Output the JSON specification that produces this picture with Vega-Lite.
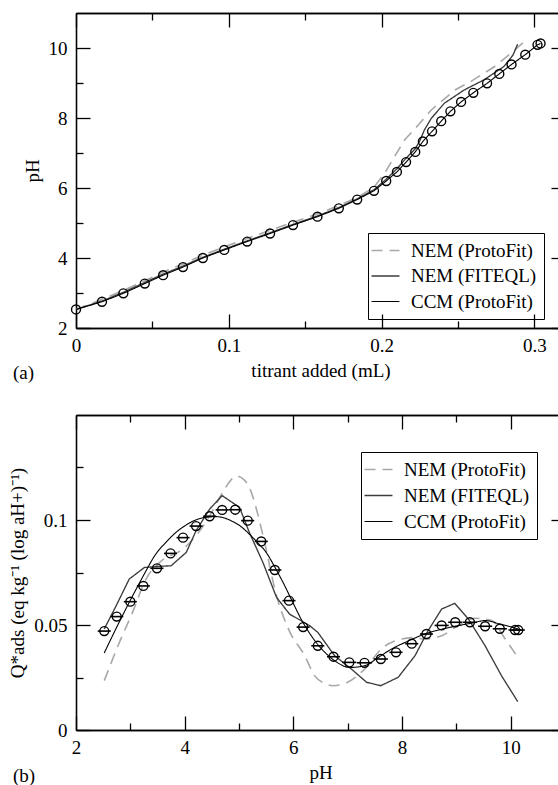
{
  "$schema": "https://vega.github.io/schema/vega-lite/v6.json",
  "padding": {"left": 8, "top": 12, "right": 0, "bottom": 0},
  "spacing": 31,
  "config": {
    "font": "Liberation Serif",
    "view": {"stroke": null},
    "axis": {
      "grid": false, "domainColor": "black", "domainWidth": 1.3, "tickColor": "black", "tickWidth": 1.3,
      "labelFont": "Liberation Serif", "labelFontSize": 19, "labelColor": "black",
      "titleFont": "Liberation Serif", "titleFontSize": 19, "titleFontWeight": "normal", "titleColor": "black",
      "tickSize": -14, "labelPadding": 22, "titlePadding": 6, "labelFlush": false
    },
    "title": {"font": "Liberation Serif", "fontSize": 19, "fontWeight": "normal", "color": "black"}
  },
  "datasets": {
    "aObs": [
      {"v":0,"pH":2.53},{"v":0.017,"pH":2.75},{"v":0.031,"pH":2.99},{"v":0.045,"pH":3.27},{"v":0.057,"pH":3.51},
      {"v":0.07,"pH":3.74},{"v":0.083,"pH":4.0},{"v":0.097,"pH":4.23},{"v":0.112,"pH":4.47},{"v":0.127,"pH":4.7},
      {"v":0.142,"pH":4.94},{"v":0.158,"pH":5.18},{"v":0.172,"pH":5.42},{"v":0.184,"pH":5.67},{"v":0.195,"pH":5.92},
      {"v":0.203,"pH":6.2},{"v":0.21,"pH":6.46},{"v":0.216,"pH":6.74},{"v":0.222,"pH":7.03},{"v":0.227,"pH":7.33},
      {"v":0.233,"pH":7.62},{"v":0.239,"pH":7.91},{"v":0.245,"pH":8.19},{"v":0.252,"pH":8.46},{"v":0.26,"pH":8.72},
      {"v":0.269,"pH":8.99},{"v":0.277,"pH":9.26},{"v":0.285,"pH":9.53},{"v":0.294,"pH":9.81},{"v":0.302,"pH":10.09},
      {"v":0.304,"pH":10.13}
    ],
    "aLines": [
      {"model":"NEM (ProtoFit)","v":0,"pH":2.53},{"model":"NEM (ProtoFit)","v":0.017,"pH":2.82},{"model":"NEM (ProtoFit)","v":0.031,"pH":3.07},
      {"model":"NEM (ProtoFit)","v":0.045,"pH":3.35},{"model":"NEM (ProtoFit)","v":0.057,"pH":3.6},{"model":"NEM (ProtoFit)","v":0.07,"pH":3.83},
      {"model":"NEM (ProtoFit)","v":0.083,"pH":4.08},{"model":"NEM (ProtoFit)","v":0.097,"pH":4.32},{"model":"NEM (ProtoFit)","v":0.112,"pH":4.56},
      {"model":"NEM (ProtoFit)","v":0.127,"pH":4.79},{"model":"NEM (ProtoFit)","v":0.142,"pH":5.02},{"model":"NEM (ProtoFit)","v":0.158,"pH":5.26},
      {"model":"NEM (ProtoFit)","v":0.172,"pH":5.5},{"model":"NEM (ProtoFit)","v":0.184,"pH":5.73},{"model":"NEM (ProtoFit)","v":0.195,"pH":6.02},
      {"model":"NEM (ProtoFit)","v":0.202,"pH":6.42},{"model":"NEM (ProtoFit)","v":0.2085,"pH":6.9},{"model":"NEM (ProtoFit)","v":0.215,"pH":7.37},
      {"model":"NEM (ProtoFit)","v":0.224,"pH":7.8},{"model":"NEM (ProtoFit)","v":0.2325,"pH":8.23},{"model":"NEM (ProtoFit)","v":0.248,"pH":8.8},
      {"model":"NEM (ProtoFit)","v":0.259,"pH":9.06},{"model":"NEM (ProtoFit)","v":0.274,"pH":9.47},{"model":"NEM (ProtoFit)","v":0.287,"pH":9.94},
      {"model":"NEM (ProtoFit)","v":0.2925,"pH":10.15},
      {"model":"NEM (FITEQL)","v":0,"pH":2.53},{"model":"NEM (FITEQL)","v":0.017,"pH":2.77},{"model":"NEM (FITEQL)","v":0.031,"pH":3.02},
      {"model":"NEM (FITEQL)","v":0.045,"pH":3.3},{"model":"NEM (FITEQL)","v":0.057,"pH":3.54},{"model":"NEM (FITEQL)","v":0.07,"pH":3.77},
      {"model":"NEM (FITEQL)","v":0.083,"pH":4.02},{"model":"NEM (FITEQL)","v":0.097,"pH":4.25},{"model":"NEM (FITEQL)","v":0.112,"pH":4.49},
      {"model":"NEM (FITEQL)","v":0.127,"pH":4.72},{"model":"NEM (FITEQL)","v":0.142,"pH":4.96},{"model":"NEM (FITEQL)","v":0.158,"pH":5.2},
      {"model":"NEM (FITEQL)","v":0.172,"pH":5.44},{"model":"NEM (FITEQL)","v":0.184,"pH":5.69},{"model":"NEM (FITEQL)","v":0.195,"pH":5.95},
      {"model":"NEM (FITEQL)","v":0.203,"pH":6.25},{"model":"NEM (FITEQL)","v":0.21,"pH":6.55},{"model":"NEM (FITEQL)","v":0.216,"pH":6.85},
      {"model":"NEM (FITEQL)","v":0.222,"pH":7.12},{"model":"NEM (FITEQL)","v":0.225,"pH":7.35},{"model":"NEM (FITEQL)","v":0.228,"pH":7.66},
      {"model":"NEM (FITEQL)","v":0.2325,"pH":7.99},{"model":"NEM (FITEQL)","v":0.241,"pH":8.42},{"model":"NEM (FITEQL)","v":0.254,"pH":8.8},
      {"model":"NEM (FITEQL)","v":0.267,"pH":9.09},{"model":"NEM (FITEQL)","v":0.28,"pH":9.47},{"model":"NEM (FITEQL)","v":0.286,"pH":9.8},
      {"model":"NEM (FITEQL)","v":0.289,"pH":10.11},
      {"model":"CCM (ProtoFit)","v":0,"pH":2.53},{"model":"CCM (ProtoFit)","v":0.017,"pH":2.75},{"model":"CCM (ProtoFit)","v":0.031,"pH":2.99},
      {"model":"CCM (ProtoFit)","v":0.045,"pH":3.27},{"model":"CCM (ProtoFit)","v":0.057,"pH":3.51},{"model":"CCM (ProtoFit)","v":0.07,"pH":3.74},
      {"model":"CCM (ProtoFit)","v":0.083,"pH":4.0},{"model":"CCM (ProtoFit)","v":0.097,"pH":4.23},{"model":"CCM (ProtoFit)","v":0.112,"pH":4.47},
      {"model":"CCM (ProtoFit)","v":0.127,"pH":4.7},{"model":"CCM (ProtoFit)","v":0.142,"pH":4.94},{"model":"CCM (ProtoFit)","v":0.158,"pH":5.18},
      {"model":"CCM (ProtoFit)","v":0.172,"pH":5.42},{"model":"CCM (ProtoFit)","v":0.184,"pH":5.67},{"model":"CCM (ProtoFit)","v":0.195,"pH":5.92},
      {"model":"CCM (ProtoFit)","v":0.203,"pH":6.2},{"model":"CCM (ProtoFit)","v":0.21,"pH":6.46},{"model":"CCM (ProtoFit)","v":0.216,"pH":6.74},
      {"model":"CCM (ProtoFit)","v":0.222,"pH":7.03},{"model":"CCM (ProtoFit)","v":0.227,"pH":7.33},{"model":"CCM (ProtoFit)","v":0.233,"pH":7.62},
      {"model":"CCM (ProtoFit)","v":0.239,"pH":7.91},{"model":"CCM (ProtoFit)","v":0.245,"pH":8.19},{"model":"CCM (ProtoFit)","v":0.252,"pH":8.46},
      {"model":"CCM (ProtoFit)","v":0.26,"pH":8.72},{"model":"CCM (ProtoFit)","v":0.269,"pH":8.99},{"model":"CCM (ProtoFit)","v":0.277,"pH":9.26},
      {"model":"CCM (ProtoFit)","v":0.285,"pH":9.53},{"model":"CCM (ProtoFit)","v":0.294,"pH":9.81},{"model":"CCM (ProtoFit)","v":0.302,"pH":10.09},
      {"model":"CCM (ProtoFit)","v":0.304,"pH":10.13}
    ],
    "bObs": [
      {"pH":2.52,"Q":0.0471,"ex":0.12},{"pH":2.75,"Q":0.054,"ex":0.12},{"pH":3.0,"Q":0.0611,"ex":0.12},{"pH":3.24,"Q":0.0686,"ex":0.12},
      {"pH":3.49,"Q":0.077,"ex":0.12},{"pH":3.74,"Q":0.0841,"ex":0.12},{"pH":3.97,"Q":0.0916,"ex":0.12},{"pH":4.21,"Q":0.0971,"ex":0.12},
      {"pH":4.46,"Q":0.1018,"ex":0.12},{"pH":4.69,"Q":0.1048,"ex":0.12},{"pH":4.93,"Q":0.1049,"ex":0.12},{"pH":5.16,"Q":0.0997,"ex":0.12},
      {"pH":5.41,"Q":0.0898,"ex":0.12},{"pH":5.66,"Q":0.0762,"ex":0.12},{"pH":5.92,"Q":0.0616,"ex":0.12},{"pH":6.18,"Q":0.049,"ex":0.12},
      {"pH":6.45,"Q":0.0401,"ex":0.12},{"pH":6.74,"Q":0.0349,"ex":0.12},{"pH":7.03,"Q":0.0322,"ex":0.13},{"pH":7.31,"Q":0.032,"ex":0.14},
      {"pH":7.61,"Q":0.0338,"ex":0.13},{"pH":7.89,"Q":0.037,"ex":0.12},{"pH":8.18,"Q":0.0411,"ex":0.12},{"pH":8.45,"Q":0.0457,"ex":0.12},
      {"pH":8.73,"Q":0.0498,"ex":0.13},{"pH":8.98,"Q":0.0513,"ex":0.13},{"pH":9.25,"Q":0.0513,"ex":0.13},{"pH":9.53,"Q":0.0494,"ex":0.13},
      {"pH":9.8,"Q":0.0482,"ex":0.13},{"pH":10.08,"Q":0.0476,"ex":0.12},{"pH":10.14,"Q":0.0476,"ex":0.12}
    ],
    "bLines": [
      {"model":"NEM (ProtoFit)","pH":2.52,"Q":0.0235},{"model":"NEM (ProtoFit)","pH":2.8,"Q":0.0418},{"model":"NEM (ProtoFit)","pH":3.04,"Q":0.056},
      {"model":"NEM (ProtoFit)","pH":3.29,"Q":0.0719},{"model":"NEM (ProtoFit)","pH":3.54,"Q":0.0798},{"model":"NEM (ProtoFit)","pH":3.97,"Q":0.0862},
      {"model":"NEM (ProtoFit)","pH":4.21,"Q":0.0925},{"model":"NEM (ProtoFit)","pH":4.46,"Q":0.102},{"model":"NEM (ProtoFit)","pH":4.7,"Q":0.1132},
      {"model":"NEM (ProtoFit)","pH":4.85,"Q":0.119},{"model":"NEM (ProtoFit)","pH":4.95,"Q":0.121},{"model":"NEM (ProtoFit)","pH":5.1,"Q":0.119},
      {"model":"NEM (ProtoFit)","pH":5.2,"Q":0.115},{"model":"NEM (ProtoFit)","pH":5.32,"Q":0.1052},{"model":"NEM (ProtoFit)","pH":5.47,"Q":0.0894},
      {"model":"NEM (ProtoFit)","pH":5.69,"Q":0.064},{"model":"NEM (ProtoFit)","pH":5.93,"Q":0.047},{"model":"NEM (ProtoFit)","pH":6.21,"Q":0.0354},
      {"model":"NEM (ProtoFit)","pH":6.39,"Q":0.0259},{"model":"NEM (ProtoFit)","pH":6.55,"Q":0.0225},{"model":"NEM (ProtoFit)","pH":6.73,"Q":0.0211},
      {"model":"NEM (ProtoFit)","pH":7.0,"Q":0.0227},{"model":"NEM (ProtoFit)","pH":7.31,"Q":0.029},{"model":"NEM (ProtoFit)","pH":7.62,"Q":0.0386},
      {"model":"NEM (ProtoFit)","pH":7.99,"Q":0.0433},{"model":"NEM (ProtoFit)","pH":8.2,"Q":0.044},{"model":"NEM (ProtoFit)","pH":8.42,"Q":0.0433},
      {"model":"NEM (ProtoFit)","pH":8.73,"Q":0.0449},{"model":"NEM (ProtoFit)","pH":9.04,"Q":0.0497},{"model":"NEM (ProtoFit)","pH":9.34,"Q":0.0532},
      {"model":"NEM (ProtoFit)","pH":9.65,"Q":0.0521},{"model":"NEM (ProtoFit)","pH":9.9,"Q":0.0433},{"model":"NEM (ProtoFit)","pH":10.11,"Q":0.0354},
      {"model":"NEM (FITEQL)","pH":2.52,"Q":0.0481},{"model":"NEM (FITEQL)","pH":2.74,"Q":0.0592},{"model":"NEM (FITEQL)","pH":2.98,"Q":0.0719},
      {"model":"NEM (FITEQL)","pH":3.26,"Q":0.0774},{"model":"NEM (FITEQL)","pH":3.51,"Q":0.0779},{"model":"NEM (FITEQL)","pH":3.75,"Q":0.0782},
      {"model":"NEM (FITEQL)","pH":4.03,"Q":0.0846},{"model":"NEM (FITEQL)","pH":4.21,"Q":0.0949},{"model":"NEM (FITEQL)","pH":4.46,"Q":0.1052},
      {"model":"NEM (FITEQL)","pH":4.69,"Q":0.1116},{"model":"NEM (FITEQL)","pH":5.01,"Q":0.106},{"model":"NEM (FITEQL)","pH":5.19,"Q":0.0941},
      {"model":"NEM (FITEQL)","pH":5.44,"Q":0.0798},{"model":"NEM (FITEQL)","pH":5.69,"Q":0.0632},{"model":"NEM (FITEQL)","pH":5.93,"Q":0.0552},
      {"model":"NEM (FITEQL)","pH":6.3,"Q":0.0497},{"model":"NEM (FITEQL)","pH":6.45,"Q":0.0465},{"model":"NEM (FITEQL)","pH":6.76,"Q":0.0354},
      {"model":"NEM (FITEQL)","pH":7.07,"Q":0.029},{"model":"NEM (FITEQL)","pH":7.35,"Q":0.0227},{"model":"NEM (FITEQL)","pH":7.61,"Q":0.0211},
      {"model":"NEM (FITEQL)","pH":7.93,"Q":0.0251},{"model":"NEM (FITEQL)","pH":8.24,"Q":0.0354},{"model":"NEM (FITEQL)","pH":8.48,"Q":0.0473},
      {"model":"NEM (FITEQL)","pH":8.73,"Q":0.0576},{"model":"NEM (FITEQL)","pH":8.97,"Q":0.0603},{"model":"NEM (FITEQL)","pH":9.22,"Q":0.0529},
      {"model":"NEM (FITEQL)","pH":9.53,"Q":0.0401},{"model":"NEM (FITEQL)","pH":9.83,"Q":0.0259},{"model":"NEM (FITEQL)","pH":10.13,"Q":0.0135},
      {"model":"CCM (ProtoFit)","pH":2.52,"Q":0.0367},{"model":"CCM (ProtoFit)","pH":2.75,"Q":0.049},{"model":"CCM (ProtoFit)","pH":2.98,"Q":0.0608},
      {"model":"CCM (ProtoFit)","pH":3.22,"Q":0.0725},{"model":"CCM (ProtoFit)","pH":3.47,"Q":0.0838},{"model":"CCM (ProtoFit)","pH":3.66,"Q":0.0895},
      {"model":"CCM (ProtoFit)","pH":3.84,"Q":0.0941},{"model":"CCM (ProtoFit)","pH":4.02,"Q":0.0975},{"model":"CCM (ProtoFit)","pH":4.21,"Q":0.1001},
      {"model":"CCM (ProtoFit)","pH":4.4,"Q":0.1013},{"model":"CCM (ProtoFit)","pH":4.58,"Q":0.1016},{"model":"CCM (ProtoFit)","pH":4.75,"Q":0.1008},
      {"model":"CCM (ProtoFit)","pH":4.89,"Q":0.0992},{"model":"CCM (ProtoFit)","pH":5.04,"Q":0.0968},{"model":"CCM (ProtoFit)","pH":5.19,"Q":0.0933},
      {"model":"CCM (ProtoFit)","pH":5.35,"Q":0.089},{"model":"CCM (ProtoFit)","pH":5.5,"Q":0.0846},{"model":"CCM (ProtoFit)","pH":5.65,"Q":0.078},
      {"model":"CCM (ProtoFit)","pH":5.81,"Q":0.0703},{"model":"CCM (ProtoFit)","pH":5.96,"Q":0.0624},{"model":"CCM (ProtoFit)","pH":6.16,"Q":0.052},
      {"model":"CCM (ProtoFit)","pH":6.33,"Q":0.0449},{"model":"CCM (ProtoFit)","pH":6.58,"Q":0.037},{"model":"CCM (ProtoFit)","pH":6.76,"Q":0.033},
      {"model":"CCM (ProtoFit)","pH":7.04,"Q":0.0298},{"model":"CCM (ProtoFit)","pH":7.31,"Q":0.0306},{"model":"CCM (ProtoFit)","pH":7.56,"Q":0.0345},
      {"model":"CCM (ProtoFit)","pH":7.81,"Q":0.0386},{"model":"CCM (ProtoFit)","pH":8.1,"Q":0.0422},{"model":"CCM (ProtoFit)","pH":8.42,"Q":0.0457},
      {"model":"CCM (ProtoFit)","pH":8.73,"Q":0.048},{"model":"CCM (ProtoFit)","pH":9.04,"Q":0.0497},{"model":"CCM (ProtoFit)","pH":9.3,"Q":0.051},
      {"model":"CCM (ProtoFit)","pH":9.53,"Q":0.0521},{"model":"CCM (ProtoFit)","pH":9.8,"Q":0.0505},{"model":"CCM (ProtoFit)","pH":10.14,"Q":0.0481}
    ]
  },
  "vconcat": [
    {
      "width": 489, "height": 315,
      "title": {"text": "(a)", "orient": "bottom", "anchor": "start", "frame": "group", "dx": -63, "dy": -16, "offset": 0},
      "layer": [
        {
          "data": {"name": "aLines"},
          "transform": [{"filter": "datum.model === 'NEM (ProtoFit)'"}],
          "mark": {"type": "line", "clip": true},
          "encoding": {
            "x": {"field": "v", "type": "quantitative", "scale": {"domain": [0, 0.32], "nice": false, "zero": false},
                  "axis": {"orient": "bottom", "values": [0, 0.1, 0.2, 0.3], "format": "~g", "title": "titrant added (mL)"}},
            "y": {"field": "pH", "type": "quantitative", "scale": {"domain": [2, 11], "nice": false, "zero": false},
                  "axis": {"orient": "left", "values": [2, 4, 6, 8, 10], "format": "d", "title": "pH", "labelPadding": 23}},
            "color": {"field": "model", "type": "nominal",
                      "scale": {"domain": ["NEM (ProtoFit)", "NEM (FITEQL)", "CCM (ProtoFit)"], "range": ["#a8a8a8", "#3c3c3c", "#000000"]},
                      "legend": {"title": null, "orient": "none", "legendX": 292, "legendY": 220, "strokeColor": "black", "padding": 7,
                                 "symbolType": "M-1.47,0H1.47", "symbolSize": 361, "labelFont": "Liberation Serif", "labelFontSize": 19,
                                 "labelColor": "black", "labelOffset": 15, "rowPadding": 4.5, "labelLimit": 300,
                                 "encode": {"symbols": {"update": {"strokeWidth": {"signal": "datum.value === 'CCM (ProtoFit)' ? 2.2 : (datum.value === 'NEM (FITEQL)' ? 1.1 : 1.6)"}}}}}},
            "strokeDash": {"field": "model", "type": "nominal",
                           "scale": {"domain": ["NEM (ProtoFit)", "NEM (FITEQL)", "CCM (ProtoFit)"], "range": [[11, 7], [1, 0], [1, 0]]}},
            "strokeWidth": {"field": "model", "type": "nominal", "legend": null,
                            "scale": {"domain": ["NEM (ProtoFit)", "NEM (FITEQL)", "CCM (ProtoFit)"], "range": [1.6, 1.1, 2.2]}}
          }
        },
        {
          "data": {"name": "aLines"},
          "transform": [{"filter": "datum.model === 'NEM (FITEQL)'"}],
          "mark": {"type": "line", "clip": true},
          "encoding": {
            "x": {"field": "v", "type": "quantitative", "axis": {"orient": "bottom", "values": [0.05, 0.15, 0.25], "labels": false, "title": null, "tickSize": -7}},
            "y": {"field": "pH", "type": "quantitative", "axis": {"orient": "left", "values": [3, 5, 7, 9], "labels": false, "title": null, "tickSize": -7}},
            "color": {"field": "model", "type": "nominal"},
            "strokeDash": {"field": "model", "type": "nominal"},
            "strokeWidth": {"field": "model", "type": "nominal", "legend": null}
          }
        },
        {
          "data": {"name": "aLines"},
          "transform": [{"filter": "datum.model === 'CCM (ProtoFit)'"}],
          "mark": {"type": "line", "clip": true},
          "encoding": {
            "x": {"field": "v", "type": "quantitative", "axis": {"orient": "top", "values": [0, 0.1, 0.2, 0.3], "labels": false, "title": null}},
            "y": {"field": "pH", "type": "quantitative", "axis": {"orient": "right", "values": [2, 4, 6, 8, 10], "labels": false, "title": null}},
            "color": {"field": "model", "type": "nominal"},
            "strokeDash": {"field": "model", "type": "nominal"},
            "strokeWidth": {"field": "model", "type": "nominal", "legend": null}
          }
        },
        {
          "data": {"name": "aObs"},
          "mark": {"type": "point", "shape": "circle", "filled": false, "size": 80, "strokeWidth": 1.4, "color": "black", "opacity": 1},
          "encoding": {
            "x": {"field": "v", "type": "quantitative", "axis": {"orient": "top", "values": [0.05, 0.15, 0.25], "labels": false, "title": null, "tickSize": -7}},
            "y": {"field": "pH", "type": "quantitative", "axis": {"orient": "right", "values": [3, 5, 7, 9], "labels": false, "title": null, "tickSize": -7}}
          }
        }
      ],
      "resolve": {"axis": {"x": "independent", "y": "independent"}}
    },
    {
      "width": 489, "height": 315,
      "title": {"text": "(b)", "orient": "bottom", "anchor": "start", "frame": "group", "dx": -63, "dy": -15, "offset": 0},
      "layer": [
        {
          "data": {"name": "bLines"},
          "transform": [{"filter": "datum.model === 'NEM (ProtoFit)'"}],
          "mark": {"type": "line", "clip": true, "interpolate": "monotone"},
          "encoding": {
            "x": {"field": "pH", "type": "quantitative", "scale": {"domain": [2, 11], "nice": false, "zero": false},
                  "axis": {"orient": "bottom", "values": [2, 4, 6, 8, 10], "format": "d", "title": "pH"}},
            "y": {"field": "Q", "type": "quantitative", "scale": {"domain": [0, 0.15], "nice": false, "zero": false},
                  "axis": {"orient": "left", "values": [0, 0.05, 0.1], "format": "~g", "title": "Q*ads (eq kg⁻¹ (log aH+)⁻¹)", "labelPadding": 23}},
            "color": {"field": "model", "type": "nominal",
                      "scale": {"domain": ["NEM (ProtoFit)", "NEM (FITEQL)", "CCM (ProtoFit)"], "range": ["#a8a8a8", "#3c3c3c", "#000000"]},
                      "legend": {"title": null, "orient": "none", "legendX": 285, "legendY": 37, "strokeColor": "black", "padding": 7,
                                 "symbolType": "M-1.47,0H1.47", "symbolSize": 361, "labelFont": "Liberation Serif", "labelFontSize": 19,
                                 "labelColor": "black", "labelOffset": 15, "rowPadding": 5, "labelLimit": 300,
                                 "encode": {"symbols": {"update": {"strokeWidth": {"signal": "datum.value === 'CCM (ProtoFit)' ? 2.2 : (datum.value === 'NEM (FITEQL)' ? 1.1 : 1.6)"}}}}}},
            "strokeDash": {"field": "model", "type": "nominal",
                           "scale": {"domain": ["NEM (ProtoFit)", "NEM (FITEQL)", "CCM (ProtoFit)"], "range": [[11, 7], [1, 0], [1, 0]]}},
            "strokeWidth": {"field": "model", "type": "nominal", "legend": null,
                            "scale": {"domain": ["NEM (ProtoFit)", "NEM (FITEQL)", "CCM (ProtoFit)"], "range": [1.6, 1.1, 2.2]}}
          }
        },
        {
          "data": {"name": "bLines"},
          "transform": [{"filter": "datum.model === 'NEM (FITEQL)'"}],
          "mark": {"type": "line", "clip": true},
          "encoding": {
            "x": {"field": "pH", "type": "quantitative", "axis": {"orient": "bottom", "values": [3, 5, 7, 9], "labels": false, "title": null, "tickSize": -7}},
            "y": {"field": "Q", "type": "quantitative", "axis": {"orient": "left", "values": [0.025, 0.075, 0.125], "labels": false, "title": null, "tickSize": -7}},
            "color": {"field": "model", "type": "nominal"},
            "strokeDash": {"field": "model", "type": "nominal"},
            "strokeWidth": {"field": "model", "type": "nominal", "legend": null}
          }
        },
        {
          "data": {"name": "bLines"},
          "transform": [{"filter": "datum.model === 'CCM (ProtoFit)'"}],
          "mark": {"type": "line", "clip": true, "interpolate": "monotone"},
          "encoding": {
            "x": {"field": "pH", "type": "quantitative", "axis": {"orient": "top", "values": [2, 4, 6, 8, 10], "labels": false, "title": null}},
            "y": {"field": "Q", "type": "quantitative", "axis": {"orient": "right", "values": [0, 0.05, 0.1], "labels": false, "title": null}},
            "color": {"field": "model", "type": "nominal"},
            "strokeDash": {"field": "model", "type": "nominal"},
            "strokeWidth": {"field": "model", "type": "nominal", "legend": null}
          }
        },
        {
          "data": {"name": "bObs"},
          "mark": {"type": "errorbar", "ticks": false, "color": "black", "thickness": 1.6},
          "encoding": {
            "x": {"field": "pH", "type": "quantitative", "axis": null},
            "xError": {"field": "ex"},
            "y": {"field": "Q", "type": "quantitative", "axis": null}
          }
        },
        {
          "data": {"name": "bObs"},
          "mark": {"type": "point", "shape": "circle", "filled": false, "size": 80, "strokeWidth": 1.4, "color": "black", "opacity": 1},
          "encoding": {
            "x": {"field": "pH", "type": "quantitative", "axis": {"orient": "top", "values": [3, 5, 7, 9], "labels": false, "title": null, "tickSize": -7}},
            "y": {"field": "Q", "type": "quantitative", "axis": {"orient": "right", "values": [0.025, 0.075, 0.125], "labels": false, "title": null, "tickSize": -7}}
          }
        }
      ],
      "resolve": {"axis": {"x": "independent", "y": "independent"}}
    }
  ],
  "resolve": {
    "scale": {"color": "independent", "strokeDash": "independent", "strokeWidth": "independent"},
    "legend": {"color": "independent", "strokeDash": "independent", "strokeWidth": "independent"}
  }
}
